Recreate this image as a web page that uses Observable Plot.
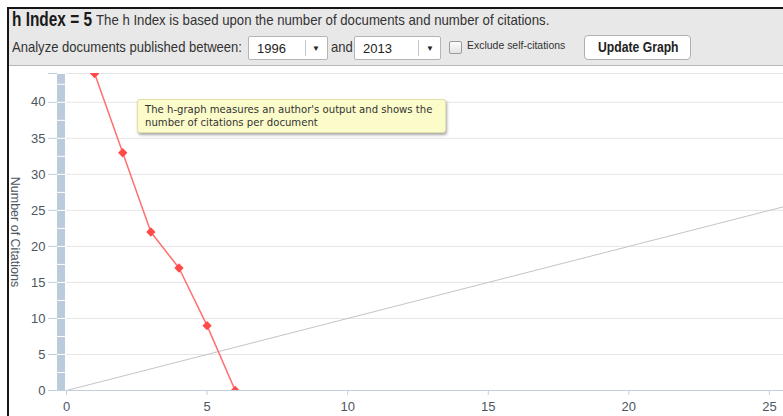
<!DOCTYPE html>
<html>
<head>
<meta charset="utf-8">
<script src="https://cdn.jsdelivr.net/npm/d3@7"></script>
<script src="https://cdn.jsdelivr.net/npm/@observablehq/plot@0.6"></script>
<style>
  html, body { margin: 0; padding: 0; background: #fff; width: 783px; height: 416px; overflow: hidden; }
  body { position: relative; font-family: "Liberation Sans", Arial, sans-serif; color: #222; }
  #header { position: absolute; left: 9px; top: 9px; width: 774px; height: 56px; background: #e8e8e8; border-bottom: 1px solid #b8b8b8; }
  #frameTop { position: absolute; left: 7px; top: 7px; width: 776px; height: 2px; background: #151515; }
  #frameLeft { position: absolute; left: 7px; top: 7px; width: 2px; height: 409px; background: #151515; }
  #chart { position: absolute; left: 0; top: 66px; }
  .t { position: absolute; white-space: nowrap; transform-origin: 0 0; color: #333; }
  .sel { position: absolute; top: 36px; height: 24px; background: #fff; border: 1px solid #b5b5b5; border-radius: 2px; box-sizing: border-box; font-size: 13px; line-height: 22px; color: #222; }
  .sel .v { position: absolute; left: 8px; top: 1px; }
  .sel .div { position: absolute; top: 3px; bottom: 3px; width: 1px; background: #c8c8c8; }
  .sel .arr { position: absolute; top: 1px; font-size: 8px; }
  #tip { position: absolute; left: 137px; top: 99px; width: 309px; height: 34px; box-sizing: border-box; background: #fcfcca; border: 1px solid #e2e2a8; border-radius: 3px; box-shadow: 1px 2px 3px rgba(0,0,0,0.35); font-family: "DejaVu Sans", Verdana, sans-serif; font-size: 10.1px; line-height: 13px; color: #333; padding: 3px 0 0 7px; white-space: nowrap; }
</style>
</head>
<body>
<div id="chart"></div>
<div id="header"></div>
<div class="t" style="left:12px; top:8px; font-size:20px; font-weight:bold; color:#1a1a1a; transform:scaleX(0.77);">h Index = 5</div>
<div class="t" style="left:96px; top:12px; font-size:14.5px; transform:scaleX(0.91);">The h Index is based upon the number of documents and number of citations.</div>
<div class="t" style="left:12px; top:39px; font-size:14.5px; transform:scaleX(0.9);">Analyze documents published between:</div>
<div class="sel" style="left:248px; width:80px;"><span class="v">1996</span><span class="div" style="left:56px;"></span><span class="arr" style="left:63px;">&#9660;</span></div>
<div class="t" style="left:331px; top:39px; font-size:14.5px; transform:scaleX(0.9);">and</div>
<div class="sel" style="left:354px; width:87px;"><span class="v">2013</span><span class="div" style="left:63px;"></span><span class="arr" style="left:71px;">&#9660;</span></div>
<div class="t" style="left:449px; top:41px; width:11px; height:11px; border:1px solid #9a9a9a; background:linear-gradient(#fdfdfd,#e2e2e2); border-radius:2px;"></div>
<div class="t" style="left:467px; top:39px; font-size:11.5px; transform:scaleX(0.91);">Exclude self-citations</div>
<div class="t" style="left:584px; top:35px; width:107px; height:25px; box-sizing:border-box; background:#fff; border:1px solid #b0b0b0; border-radius:4px;"></div>
<div class="t" style="left:598px; top:39px; font-size:14.5px; font-weight:bold; color:#222; transform:scaleX(0.84);">Update Graph</div>
<div id="frameTop"></div>
<div id="frameLeft"></div>
<div id="tip">The h-graph measures an author's output and shows the<br>number of citations per document</div>
<script>
// Documents ranked by citations: document rank -> number of citations
const documentRank = [1, 2, 3, 4, 5, 6];
const citations = [44, 33, 22, 17, 9, 0];
// h-index reference line (citations = documents)
const diagonal = [0, 26];
// axis ticks
const xTicks = [0, 5, 10, 15, 20, 25];
const yTicks = [0, 5, 10, 15, 20, 25, 30, 35, 40];
const yTop = 44;
// vertical scrollbar segments along the y axis
const scrollSegments = [0, 2.5, 5, 7.5, 10, 12.5, 15, 17.5, 20, 22.5, 25, 27.5, 30, 32.5, 35, 37.5, 40, 42.5];

const docs = documentRank.map((d, i) => ({rank: d, cites: citations[i]}));

const labelColor = "#4d5661";
const axisColor = "#c0d0e0";

const plot = Plot.plot({
  width: 783,
  height: 350,
  marginLeft: 66,
  marginRight: 0,
  marginTop: 7,
  marginBottom: 26,
  style: {background: "transparent", overflow: "visible", fontFamily: "'Liberation Sans', Arial, sans-serif", fontSize: "13px"},
  x: {domain: [0, 25.5], axis: null},
  y: {domain: [0, yTop], axis: null},
  marks: [
    Plot.gridY(yTicks.concat([yTop]), {stroke: "#e6e6e6", strokeOpacity: 1}),
    Plot.axisY(yTicks.concat([yTop]), {tickSize: 9, dx: -9, tickPadding: 3, stroke: axisColor, tickFormat: d => d === yTop ? "" : d, fill: labelColor, fontSize: 13, label: null}),
    Plot.ruleY([0], {stroke: axisColor, insetLeft: -18}),
    Plot.axisX(xTicks, {tickSize: 5, tickPadding: 6, stroke: axisColor, fill: labelColor, fontSize: 13, label: null}),
    Plot.rect(scrollSegments, {x1: () => 0, x2: () => 0, y1: d => d, y2: d => Math.min(d + 2.5, yTop), insetLeft: -9, insetRight: 1, insetTop: 1, fill: "#bccbdc"}),
    Plot.line(diagonal, {x: d => d, y: d => d, stroke: "#c4c4c4", strokeWidth: 1, clip: true}),
    Plot.line(docs, {x: "rank", y: "cites", stroke: "#ff6f6f", strokeWidth: 1.5, clip: true}),
    Plot.dot(docs, {x: "rank", y: "cites", symbol: "diamond2", r: 4.2, fill: "#ff4a4a", stroke: "none", clip: true}),
    Plot.text(["Number of Citations"], {frameAnchor: "left", textAnchor: "middle", rotate: 90, dx: -52, dy: 0, fill: labelColor, fontSize: 12.5})
  ]
});
document.getElementById("chart").appendChild(plot);
</script>
</body>
</html>
